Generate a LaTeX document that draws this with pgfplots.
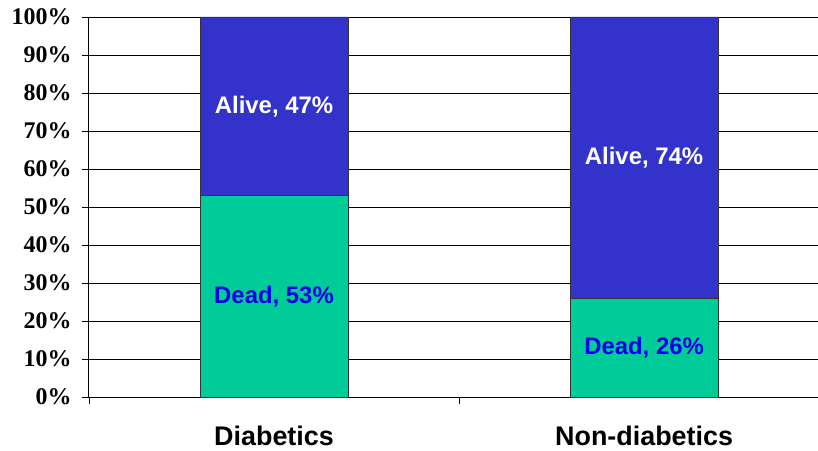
\documentclass[border=0pt]{standalone}
\usepackage{fontspec}
\setmainfont{Liberation Serif}
\newfontfamily\arial{Liberation Sans}
\usepackage{pgfplots}
\pgfplotsset{compat=1.18}
\usetikzlibrary{calc}
\definecolor{deadgreen}{HTML}{00CC99}
\definecolor{aliveblue}{HTML}{3333CC}
\definecolor{labelblue}{HTML}{0000EE}
\begin{document}
\begin{tikzpicture}
\begin{axis}[
  scale only axis, width=729bp, height=380bp,
  xmin=-0.5, xmax=1.47, ymin=0, ymax=100,
  ybar stacked, bar width=0.4,
  axis lines=left, axis line style={-, line width=1bp},
  ytick={0,10,...,100}, yticklabel={\pgfmathprintnumber{\tick}\%},
  ymajorgrids, grid style={black, line width=0.8bp},
  tick align=outside, major tick length=7bp,
  tick style={black, line width=0.8bp},
  yticklabel style={font=\fontsize{24}{24}\selectfont\bfseries, xshift=-7bp},
  /pgf/number format/assume math mode=true,
  xtick={-0.5,0.5,1.5}, xticklabels={},
  clip=false,
]
\addplot[fill=deadgreen, draw=black!80, line width=0.6bp] coordinates {(0,53) (1,26)};
\addplot[fill=aliveblue, draw=black!80, line width=0.6bp] coordinates {(0,47) (1,74)};
\coordinate (a1) at (axis cs:0,76.5);
\coordinate (d1) at (axis cs:0,26.5);
\coordinate (a2) at (axis cs:1,63);
\coordinate (d2) at (axis cs:1,13);
\coordinate (c1) at (axis cs:0,0);
\coordinate (c2) at (axis cs:1,0);
\end{axis}
\node[font=\arial\fontsize{24}{24}\selectfont\bfseries, text=white] at (a1) {Alive, 47\%};
\node[font=\arial\fontsize{24}{24}\selectfont\bfseries, text=labelblue] at (d1) {Dead, 53\%};
\node[font=\arial\fontsize{24}{24}\selectfont\bfseries, text=white] at (a2) {Alive, 74\%};
\node[font=\arial\fontsize{24}{24}\selectfont\bfseries, text=labelblue] at (d2) {Dead, 26\%};
\node[font=\arial\fontsize{27}{27}\selectfont\bfseries, anchor=base] at ($(c1)+(0,-48bp)$) {Diabetics};
\node[font=\arial\fontsize{27}{27}\selectfont\bfseries, anchor=base] at ($(c2)+(0,-48bp)$) {Non-diabetics};
\pgfresetboundingbox
\path ($(current axis.south west)+(-89bp,-54bp)$) rectangle ($(current axis.north east)+(0bp,17bp)$);
\end{tikzpicture}
\end{document}
